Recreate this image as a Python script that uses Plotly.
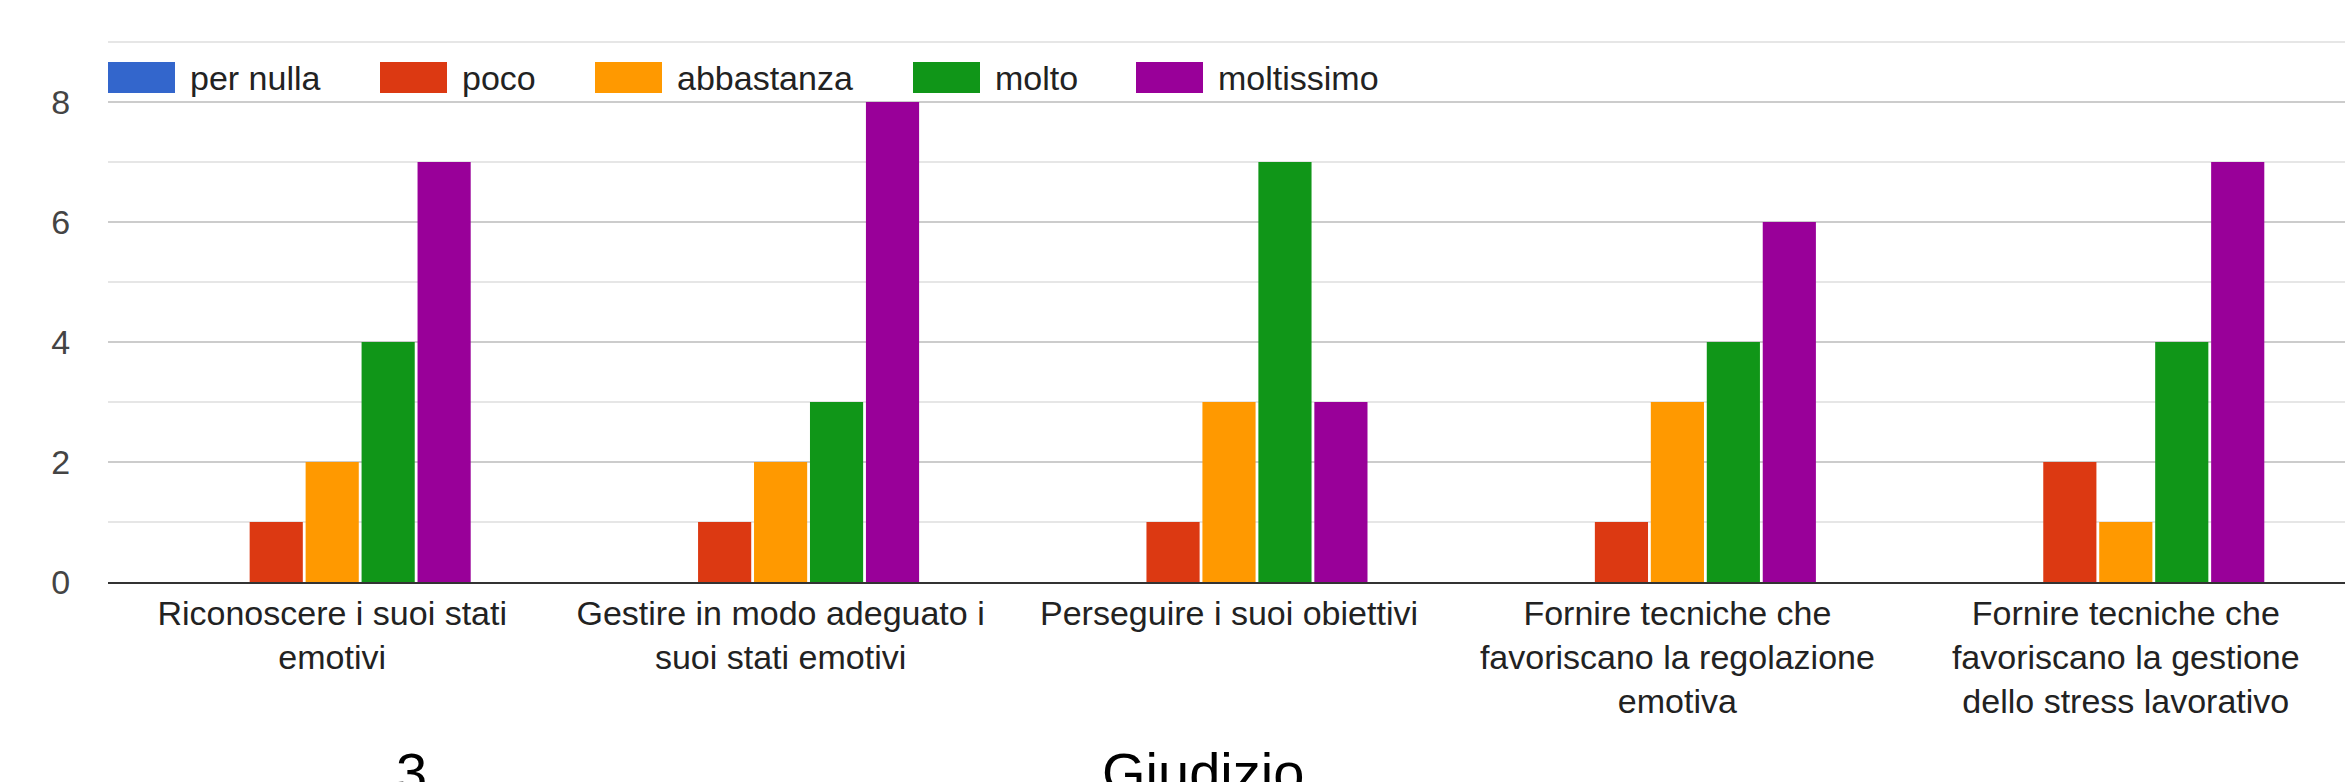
import plotly.graph_objects as go

# ---- data ----
categories = [
    "Riconoscere i suoi stati<br>emotivi",
    "Gestire in modo adeguato i<br>suoi stati emotivi",
    "Perseguire i suoi obiettivi",
    "Fornire tecniche che<br>favoriscano la regolazione<br>emotiva",
    "Fornire tecniche che<br>favoriscano la gestione<br>dello stress lavorativo",
]
series_names = ["per nulla", "poco", "abbastanza", "molto", "moltissimo"]
per_nulla = [0, 0, 0, 0, 0]
poco = [1, 1, 1, 1, 2]
abbastanza = [2, 2, 3, 3, 1]
molto = [4, 3, 7, 4, 4]
moltissimo = [7, 8, 3, 6, 7]
series_values = [per_nulla, poco, abbastanza, molto, moltissimo]
colors = ["#3366cc", "#dc3912", "#ff9900", "#109618", "#990099"]
y_ticks = [0, 2, 4, 6, 8]
y_minor = [1, 3, 5, 7, 9]

# ---- layout geometry (pixels) ----
W_FIG, H_FIG = 2345, 782
L, T = 108, 39
PW, PH = W_FIG - L, 543
B = H_FIG - T - PH

def px2x(px):
    return (px - L) / PW

def px2y(py):
    return (T + PH - py) / PH

FONT = "Liberation Sans, Arial, sans-serif"

fig = go.Figure()
for name, vals, col in zip(series_names, series_values, colors):
    fig.add_trace(go.Bar(
        x=categories, y=vals, name=name,
        marker=dict(color=col, line=dict(width=0)),
        showlegend=False,
    ))

# custom legend (large rectangular swatches)
legend_px = [108, 380, 595, 913, 1136]
sw_w, sw_top, sw_bot = 67, 62, 93
shapes = []
annotations = []
for name, col, lx in zip(series_names, colors, legend_px):
    shapes.append(dict(type="rect", xref="paper", yref="paper",
                       x0=px2x(lx), x1=px2x(lx + sw_w),
                       y0=px2y(sw_bot), y1=px2y(sw_top),
                       fillcolor=col, line=dict(width=0), layer="above"))
    annotations.append(dict(text=name, xref="paper", yref="paper",
                            x=px2x(lx + 80), y=px2y(78),
                            xanchor="left", yanchor="middle", showarrow=False,
                            font=dict(family=FONT, size=34, color="#222222")))

# bottom (clipped in the original image) texts
annotations.append(dict(text="3", xref="paper", yref="paper",
                        x=px2x(411), y=px2y(739), xanchor="center", yanchor="top",
                        showarrow=False, font=dict(family=FONT, size=56, color="#000000")))
annotations.append(dict(text="Giudizio", xref="paper", yref="paper",
                        x=px2x(1100), y=px2y(739), xanchor="left", yanchor="top",
                        showarrow=False, font=dict(family=FONT, size=56, color="#000000")))

fig.update_layout(
    width=W_FIG, height=H_FIG,
    margin=dict(l=L, r=0, t=T, b=B, pad=0),
    paper_bgcolor="white", plot_bgcolor="white",
    barmode="group", bargap=0.376, bargroupgap=0.05,
    shapes=shapes, annotations=annotations,
    font=dict(family=FONT),
    showlegend=False,
)
fig.update_xaxes(
    range=[-0.5, 4.5 - 5 / 448.5],
    showline=True, linecolor="#333333", linewidth=2,
    showgrid=False, zeroline=False,
    ticks="", tickfont=dict(family=FONT, size=34, color="#222222"),
    automargin=False, layer="above traces",
)
fig.update_yaxes(
    range=[0, 9.05], tickvals=y_ticks, ticktext=[str(v) for v in y_ticks],
    showgrid=True, gridcolor="#cccccc", gridwidth=2,
    minor=dict(tickvals=y_minor, showgrid=True, gridcolor="#e6e6e6", gridwidth=2),
    zeroline=False, showline=False,
    ticks="outside", ticklen=30, tickcolor="rgba(0,0,0,0)",
    tickfont=dict(family=FONT, size=34, color="#444444"),
    automargin=False,
)

fig.write_html("out.html")
